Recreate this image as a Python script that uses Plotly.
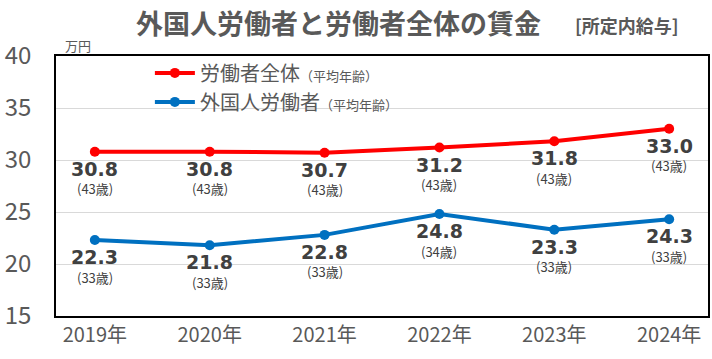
import plotly.graph_objects as go

years = ["2019年", "2020年", "2021年", "2022年", "2023年", "2024年"]
all_workers = [30.8, 30.8, 30.7, 31.2, 31.8, 33.0]
all_ages = [43, 43, 43, 43, 43, 43]
foreign_workers = [22.3, 21.8, 22.8, 24.8, 23.3, 24.3]
foreign_ages = [33, 33, 33, 34, 33, 33]
y_ticks = [15, 20, 25, 30, 35, 40]

FONT = "Noto Sans CJK JP"
NUMFONT = "DejaVu Sans"
RED = "#ff0000"
BLUE = "#0070c0"
DARK = "#404040"
GRAY = "#595959"

fig = go.Figure()
fig.add_trace(go.Scatter(
    x=years, y=all_workers, mode="lines+markers",
    name='労働者全体<span style="font-size:13px">（平均年齢）</span>',
    line=dict(color=RED, width=4), marker=dict(size=10, color=RED)))
fig.add_trace(go.Scatter(
    x=years, y=foreign_workers, mode="lines+markers",
    name='外国人労働者<span style="font-size:13px">（平均年齢）</span>',
    line=dict(color=BLUE, width=4), marker=dict(size=10, color=BLUE)))

annotations = []
for vals, ages in [(all_workers, all_ages), (foreign_workers, foreign_ages)]:
    for x, v, a in zip(years, vals, ages):
        annotations.append(dict(
            x=x, y=v, xref="x", yref="y", yanchor="middle", yshift=-17,
            text=f"<b>{v:.1f}</b>", showarrow=False,
            font=dict(family=NUMFONT, size=19, color=DARK)))
        annotations.append(dict(
            x=x, y=v, xref="x", yref="y", yanchor="middle", yshift=-37,
            text=f"({a}歳)", showarrow=False,
            font=dict(family=FONT, size=13, color=DARK)))

annotations.append(dict(
    x=0.434, y=1.13, xref="paper", yref="paper", xanchor="center", yanchor="middle",
    text="<b>外国人労働者と労働者全体の賃金</b>", showarrow=False,
    font=dict(family=FONT, size=27, color=GRAY)))
annotations.append(dict(
    x=0.876, y=1.12, xref="paper", yref="paper", xanchor="center", yanchor="middle",
    text="<b>[所定内給与]</b>", showarrow=False,
    font=dict(family=FONT, size=18, color=GRAY)))
annotations.append(dict(
    x=0.01, y=1.04, xref="paper", yref="paper", xanchor="left", yanchor="middle",
    text="万円", showarrow=False,
    font=dict(family=FONT, size=13, color=GRAY)))

fig.update_layout(
    width=712, height=359,
    margin=dict(l=56, r=2, t=56, b=43),
    paper_bgcolor="white", plot_bgcolor="white",
    font=dict(family=FONT, color=GRAY),
    showlegend=True,
    legend=dict(x=0.144, y=1.01, xanchor="left", yanchor="top",
                bgcolor="rgba(0,0,0,0)", font=dict(family=FONT, size=20, color=GRAY),
                tracegroupgap=0, itemwidth=40),
    xaxis=dict(showline=True, linecolor="black", linewidth=1.5, mirror=True,
               tickfont=dict(family=FONT, size=20, color=GRAY), ticks="",
               showgrid=False),
    yaxis=dict(range=[15, 40], tickvals=y_ticks, showline=True, linecolor="black",
               linewidth=1.5, mirror=True, gridcolor="#d9d9d9", gridwidth=1,
               tickfont=dict(family=FONT, size=24, color=GRAY), ticks="",
               ticklabelstandoff=18, zeroline=False),
    annotations=annotations,
)
fig.write_html("out.html", config={"displayModeBar": False},
               post_script="document.body.style.margin='0px';")
